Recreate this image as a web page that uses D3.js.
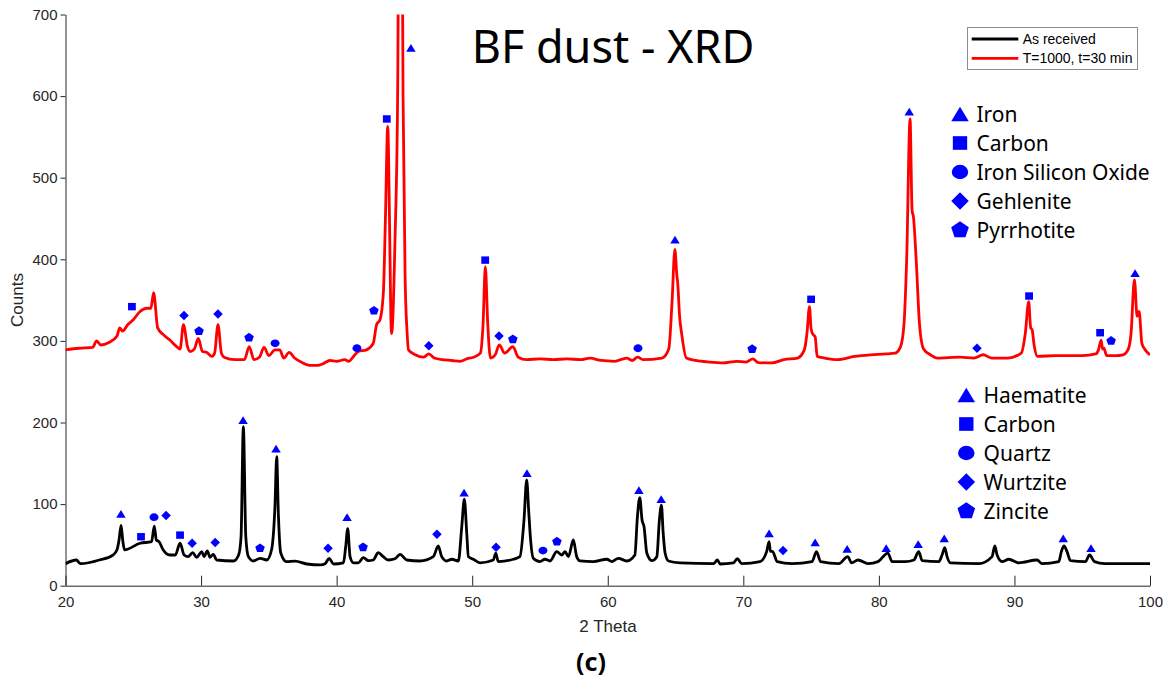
<!DOCTYPE html>
<html>
<head>
<meta charset="utf-8">
<script src="https://cdn.jsdelivr.net/npm/d3@7/dist/d3.min.js"></script>
<style>
  html, body { margin: 0; padding: 0; background: #ffffff; }
  svg { display: block; }
</style>
</head>
<body>
<svg id="chart" width="1172" height="684"></svg>
<script>
// ---------- DATA ----------
const xTicks = [20, 30, 40, 50, 60, 70, 80, 90, 100];
const yTicks = [0, 100, 200, 300, 400, 500, 600, 700];

const seriesNames = ["As received", "T=1000, t=30 min"];
const seriesColors = ["#000000", "#ff0000"];

// Heat-treated sample (red) : [2theta, counts]
const treatedCurve = [
  [20, 289], [21, 291], [22, 292], [22.3, 300], [22.6, 295], [23.2, 298], [23.8, 306], [24.0, 316],
  [24.2, 312], [24.6, 320], [25.0, 326], [25.5, 336], [26.0, 340], [26.3, 340], [26.5, 359], [26.8, 316],
  [27.2, 308], [27.7, 301], [28.2, 293], [28.45, 290], [28.7, 320], [29.0, 293], [29.2, 287], [29.5, 290],
  [29.8, 303], [30.1, 287], [30.4, 286], [30.8, 281], [31.0, 285], [31.25, 320], [31.5, 285], [31.7, 280],
  [32.5, 277], [33.2, 277], [33.55, 293], [33.9, 277], [34.3, 280], [34.65, 292], [35.0, 282], [35.45, 289],
  [35.8, 289], [36.1, 279], [36.5, 286], [36.9, 279], [37.5, 273], [38.0, 270], [38.6, 270], [39.0, 272],
  [39.5, 276], [40.0, 275], [40.6, 277], [40.9, 275], [41.2, 280], [41.6, 287], [42.2, 289], [42.7, 297],
  [42.95, 320], [43.2, 326], [43.45, 360], [43.6, 450], [43.77, 563], [43.9, 450], [44.0, 330], [44.06, 309],
  [44.15, 330], [44.3, 420], [44.5, 600], [44.7, 1200], [44.9, 600], [45.05, 380], [45.2, 310], [45.3, 289],
  [45.8, 283], [46.4, 280], [46.8, 284], [47.2, 279], [47.8, 277], [48.5, 276], [49.1, 275], [49.6, 278],
  [50.1, 280], [50.6, 285], [50.8, 320], [50.97, 391], [51.15, 320], [51.35, 279], [51.7, 283], [52.0, 295],
  [52.4, 285], [53.0, 293], [53.4, 280], [54.0, 277], [55.0, 278], [56.0, 277], [57.0, 278], [58.0, 277],
  [58.7, 279], [59.5, 276], [60.5, 275], [61.4, 279], [61.8, 276], [62.2, 280], [62.6, 277], [64.0, 279],
  [64.5, 290], [64.75, 350], [64.95, 412], [65.1, 380], [65.16, 371], [65.3, 330], [65.45, 309], [65.8, 279],
  [66.5, 276], [67.5, 274], [68.5, 273], [69.5, 275], [70.2, 274], [70.7, 278], [71.1, 273.5], [72.1, 273],
  [73.0, 277], [74.0, 279], [74.5, 289], [74.7, 310], [74.88, 342], [75.0, 315], [75.1, 309], [75.3, 305],
  [75.45, 281], [76.0, 279], [77.0, 277], [78.2, 281], [79.4, 283], [80.5, 284], [81.2, 285], [81.6, 293],
  [81.85, 320], [82.05, 400], [82.3, 572], [82.45, 460], [82.55, 452], [82.75, 400], [83.0, 320], [83.3, 290],
  [83.8, 283], [84.3, 279], [86.0, 280], [87.0, 279], [87.7, 283], [88.3, 279], [89.5, 279], [90.5, 285],
  [90.8, 309], [91.05, 348], [91.2, 316], [91.3, 314], [91.45, 295], [91.7, 281], [93.0, 282], [95.0, 282],
  [96.0, 284], [96.2, 289], [96.4, 301], [96.5, 290], [96.6, 291], [96.8, 282], [97.5, 282], [98.0, 283],
  [98.4, 290], [98.6, 309], [98.85, 375], [99.05, 330], [99.2, 336], [99.4, 297], [99.65, 289], [100, 283]
];

// As-received sample (black) : [2theta, counts]
const receivedCurve = [
  [20, 27], [20.8, 31.5], [21.1, 27], [22.5, 31.5], [23.5, 37.6], [23.8, 44], [23.95, 56], [24.1, 74],
  [24.22, 56], [24.35, 44], [25.5, 52], [26.35, 54], [26.55, 73], [26.7, 56], [26.9, 54], [27.2, 44],
  [27.7, 37.6], [28.1, 37.6], [28.45, 52], [28.75, 37.6], [29.05, 35.6], [29.38, 40.5], [29.68, 34.8], [30.05, 41.7],
  [30.22, 35.6], [30.46, 42.6], [30.66, 34.8], [30.9, 38.5], [31.15, 31.5], [32.4, 30.3], [32.77, 37.6], [32.95, 60],
  [33.12, 195], [33.3, 60], [33.49, 35.6], [33.86, 30.3], [34.35, 33.6], [34.85, 31.5], [35.2, 44], [35.45, 97],
  [35.58, 158], [35.7, 89], [35.88, 40], [36.3, 29.5], [36.93, 30], [37.8, 26.6], [38.8, 25.4], [39.15, 27],
  [39.46, 33.6], [39.76, 26.6], [40.5, 28], [40.67, 48], [40.82, 70], [40.99, 35.6], [41.24, 28], [41.6, 28],
  [41.97, 34.4], [42.34, 30.7], [42.7, 31.5], [43.07, 40.5], [43.44, 35.6], [43.8, 31.5], [44.3, 33], [44.68, 38.5],
  [45.17, 31.5], [46.15, 30.3], [47.13, 35.6], [47.5, 48.7], [47.75, 35.6], [48.12, 30.3], [48.5, 32.4], [48.98, 30.3],
  [49.23, 72], [49.42, 106], [49.6, 64], [49.72, 35.6], [50.08, 32.4], [50.58, 28], [51.56, 31.5], [51.74, 40],
  [51.92, 29.5], [53.03, 32.4], [53.52, 35.6], [53.82, 80], [54.02, 129.6], [54.17, 91], [54.31, 56], [54.51, 33.6],
  [55.0, 29.5], [55.37, 32.4], [55.74, 30.3], [56.24, 41.7], [56.6, 37.6], [56.85, 41.7], [57.1, 35.6], [57.46, 56],
  [57.71, 35.6], [57.96, 30.3], [58.94, 29.5], [59.93, 32.4], [60.3, 29.5], [60.78, 33.6], [61.4, 30.3], [62.0, 37.6],
  [62.19, 85], [62.36, 108], [62.53, 80.6], [62.68, 72], [62.88, 40], [63.25, 30.7], [63.62, 35.6], [63.81, 80.6],
  [63.96, 98.6], [64.09, 64], [64.23, 40], [64.48, 30.3], [65.34, 28], [67.8, 27], [68.09, 31.5], [68.29, 26.6],
  [69.27, 28], [69.56, 33], [69.89, 27], [71.23, 29.5], [71.72, 41.7], [71.9, 54], [72.0, 42], [72.15, 42],
  [72.5, 29.5], [73.59, 27], [75.07, 29.5], [75.4, 41.7], [75.7, 29.5], [77.05, 27], [77.7, 35.6], [77.99, 28],
  [78.46, 31.5], [79.2, 27], [79.94, 29.5], [80.66, 40], [80.98, 29.5], [81.96, 29.5], [82.58, 31.5], [82.94, 41.7],
  [83.19, 30.7], [84.42, 29.5], [84.66, 37.6], [84.86, 46.6], [85.03, 35.6], [85.27, 28], [87.37, 27], [88.35, 35.6],
  [88.55, 48.7], [88.72, 37.6], [89.09, 29.5], [89.58, 32.4], [90.32, 28], [91.67, 31.5], [92.04, 27], [93.27, 29.5],
  [93.46, 41.7], [93.66, 48.7], [93.88, 41.7], [94.13, 30.7], [95.24, 29.5], [95.54, 37.6], [95.91, 29.5], [96.65, 27],
  [100, 27]
];

// Phase markers: [2theta, counts, symbol]
const treatedMarkers = [
  [24.9, 342, "square"], [28.74, 331, "diamond"], [29.85, 312, "pentagon"], [31.25, 333, "diamond"],
  [33.54, 304, "pentagon"], [35.46, 297, "circle"], [41.5, 291, "circle"], [42.75, 337, "pentagon"],
  [43.7, 572, "square"], [45.48, 659, "triangle"], [46.8, 294, "diamond"], [50.96, 399, "square"],
  [51.98, 306, "diamond"], [53.0, 302, "pentagon"], [62.23, 291, "circle"], [64.96, 424, "triangle"],
  [70.65, 290, "pentagon"], [75.0, 351, "square"], [82.24, 581, "triangle"], [87.24, 291, "diamond"],
  [91.08, 355, "square"], [96.32, 310, "square"], [97.13, 300, "pentagon"], [98.9, 383, "triangle"]
];
const receivedMarkers = [
  [24.09, 88, "triangle"], [25.57, 60, "square"], [26.53, 84, "circle"], [27.42, 86, "diamond"],
  [28.45, 62, "square"], [29.34, 52, "diamond"], [31.04, 53, "diamond"], [33.1, 203, "triangle"],
  [34.35, 46, "pentagon"], [35.53, 168, "triangle"], [39.37, 46, "diamond"], [40.77, 84, "triangle"],
  [41.95, 47, "pentagon"], [47.4, 63, "diamond"], [49.4, 114, "triangle"], [51.76, 47, "diamond"],
  [54.04, 138, "triangle"], [55.22, 43, "circle"], [56.25, 54, "pentagon"], [62.3, 117, "triangle"],
  [63.94, 106, "triangle"], [71.9, 64, "triangle"], [72.93, 43, "diamond"], [75.3, 53, "triangle"],
  [77.66, 45, "triangle"], [80.54, 46, "triangle"], [82.9, 51, "triangle"], [84.82, 58, "triangle"],
  [93.6, 58, "triangle"], [95.65, 46, "triangle"]
];

const phaseSymbols = ["triangle", "square", "circle", "diamond", "pentagon"];
const treatedPhases = ["Iron", "Carbon", "Iron Silicon Oxide", "Gehlenite", "Pyrrhotite"];
const receivedPhases = ["Haematite", "Carbon", "Quartz", "Wurtzite", "Zincite"];

const titleText = "BF dust - XRD";
const xLabel = "2 Theta";
const yLabel = "Counts";
const panelLabel = "(c)";

// ---------- DRAWING ----------
const svg = d3.select("#chart");
const axisColor = "#262626";
const markerColor = "#0000ff";
const plotL = 65.5, plotR = 1150, plotT = 14.5, plotB = 585.7;

const x = d3.scaleLinear().domain([20, 100]).range([plotL, plotR]);
const y = d3.scaleLinear().domain([0, 700]).range([plotB, plotT]);

svg.append("defs").append("clipPath").attr("id", "plotClip")
  .append("rect").attr("x", plotL).attr("y", plotT).attr("width", plotR - plotL).attr("height", plotB - plotT);

function symbolPath(type, s) {
  if (type === "triangle") {
    const w = s, h = s * 0.82;
    return `M0,${-h / 2}L${w / 2},${h / 2}L${-w / 2},${h / 2}Z`;
  }
  if (type === "square") {
    const w = s * 0.82, h = s * 0.78;
    return `M${-w / 2},${-h / 2}H${w / 2}V${h / 2}H${-w / 2}Z`;
  }
  if (type === "circle") {
    const rx = s * 0.47, ry = s * 0.41;
    return `M${-rx},0A${rx},${ry} 0 1,0 ${rx},0A${rx},${ry} 0 1,0 ${-rx},0Z`;
  }
  if (type === "diamond") {
    const a = s * 0.5;
    return `M0,${-a}L${a},0L0,${a}L${-a},0Z`;
  }
  const r = s * 0.53;
  const pts = d3.range(5).map(k => {
    const ang = -Math.PI / 2 + k * 2 * Math.PI / 5;
    return [r * Math.cos(ang), r * Math.sin(ang) * 0.95];
  });
  return "M" + pts.map(p => p.join(",")).join("L") + "Z";
}

// Axes
const xAxis = d3.axisBottom(x).tickValues(xTicks).tickSizeInner(-10).tickSizeOuter(0).tickPadding(11)
  .tickFormat(d3.format("d"));
const yAxis = d3.axisLeft(y).tickValues(yTicks).tickSizeInner(5).tickSizeOuter(0).tickPadding(3)
  .tickFormat(d3.format("d"));

const gx = svg.append("g").attr("transform", `translate(0,${plotB})`).call(xAxis);
const gy = svg.append("g").attr("transform", `translate(${plotL},0)`).call(yAxis);
[gx, gy].forEach(g => {
  g.select(".domain").attr("stroke", axisColor).attr("stroke-width", 1);
  g.selectAll(".tick line").attr("stroke", axisColor).attr("stroke-width", 1);
  g.selectAll(".tick text").attr("fill", axisColor)
    .style("font-family", "'Liberation Sans', Arial, sans-serif").style("font-size", "15px");
});

// Curves
const line = d3.line().x(d => x(d[0])).y(d => y(d[1])).curve(d3.curveMonotoneX);
const curves = svg.append("g").attr("clip-path", "url(#plotClip)");
[receivedCurve, treatedCurve].forEach((data, i) => {
  curves.append("path").datum(data)
    .attr("d", line)
    .attr("fill", "none")
    .attr("stroke", seriesColors[i])
    .attr("stroke-width", 2.8)
    .attr("stroke-linejoin", "round");
});

// Markers
const mg = svg.append("g");
treatedMarkers.concat(receivedMarkers).forEach(m => {
  mg.append("path")
    .attr("d", symbolPath(m[2], 9.5))
    .attr("transform", `translate(${x(m[0])},${y(m[1])})`)
    .attr("fill", markerColor);
});

// Phase legends
function phaseLegend(names, mx, tx, y0) {
  const g = svg.append("g");
  names.forEach((name, i) => {
    const cy = y0 + i * 29;
    g.append("path").attr("d", symbolPath(phaseSymbols[i], 17.5))
      .attr("transform", `translate(${mx},${cy})`).attr("fill", markerColor);
    g.append("text").attr("x", tx).attr("y", cy + 8)
      .style("font-family", "'Noto Sans', 'Open Sans', sans-serif").style("font-size", "21px")
      .attr("fill", "#000").text(name);
  });
}
phaseLegend(treatedPhases, 960, 976.5, 114);
phaseLegend(receivedPhases, 966.3, 983.5, 395);

// Series legend box
const lg = svg.append("g");
lg.append("rect").attr("x", 967.5).attr("y", 27.5).attr("width", 170).attr("height", 42)
  .attr("fill", "#fff").attr("stroke", "#8c8c8c").attr("stroke-width", 1);
seriesNames.forEach((name, row) => {
  const ly = 39 + row * 19.3;
  lg.append("line").attr("x1", 971.7).attr("x2", 1018.3).attr("y1", ly).attr("y2", ly)
    .attr("stroke", seriesColors[row]).attr("stroke-width", 2.8);
  lg.append("text").attr("x", 1022.7).attr("y", ly + 5)
    .style("font-family", "'Liberation Sans', Arial, sans-serif").style("font-size", "14px")
    .attr("fill", "#000").text(name);
});

// Title and labels
svg.append("text").attr("x", 613).attr("y", 63).attr("text-anchor", "middle")
  .style("font-family", "'Noto Sans', 'Open Sans', sans-serif").style("font-size", "45px")
  .attr("fill", "#000").text(titleText);

svg.append("text").attr("x", 608).attr("y", 632).attr("text-anchor", "middle")
  .style("font-family", "'Liberation Sans', Arial, sans-serif").style("font-size", "17px")
  .attr("fill", axisColor).text(xLabel);

svg.append("text").attr("transform", "translate(23,300) rotate(-90)").attr("text-anchor", "middle")
  .style("font-family", "'Liberation Sans', Arial, sans-serif").style("font-size", "17px")
  .attr("fill", axisColor).text(yLabel);

svg.append("text").attr("x", 591).attr("y", 671).attr("text-anchor", "middle")
  .style("font-family", "'Noto Sans', 'Open Sans', sans-serif").style("font-size", "25px")
  .style("font-weight", "bold").attr("fill", "#000").text(panelLabel);
</script>
</body>
</html>
